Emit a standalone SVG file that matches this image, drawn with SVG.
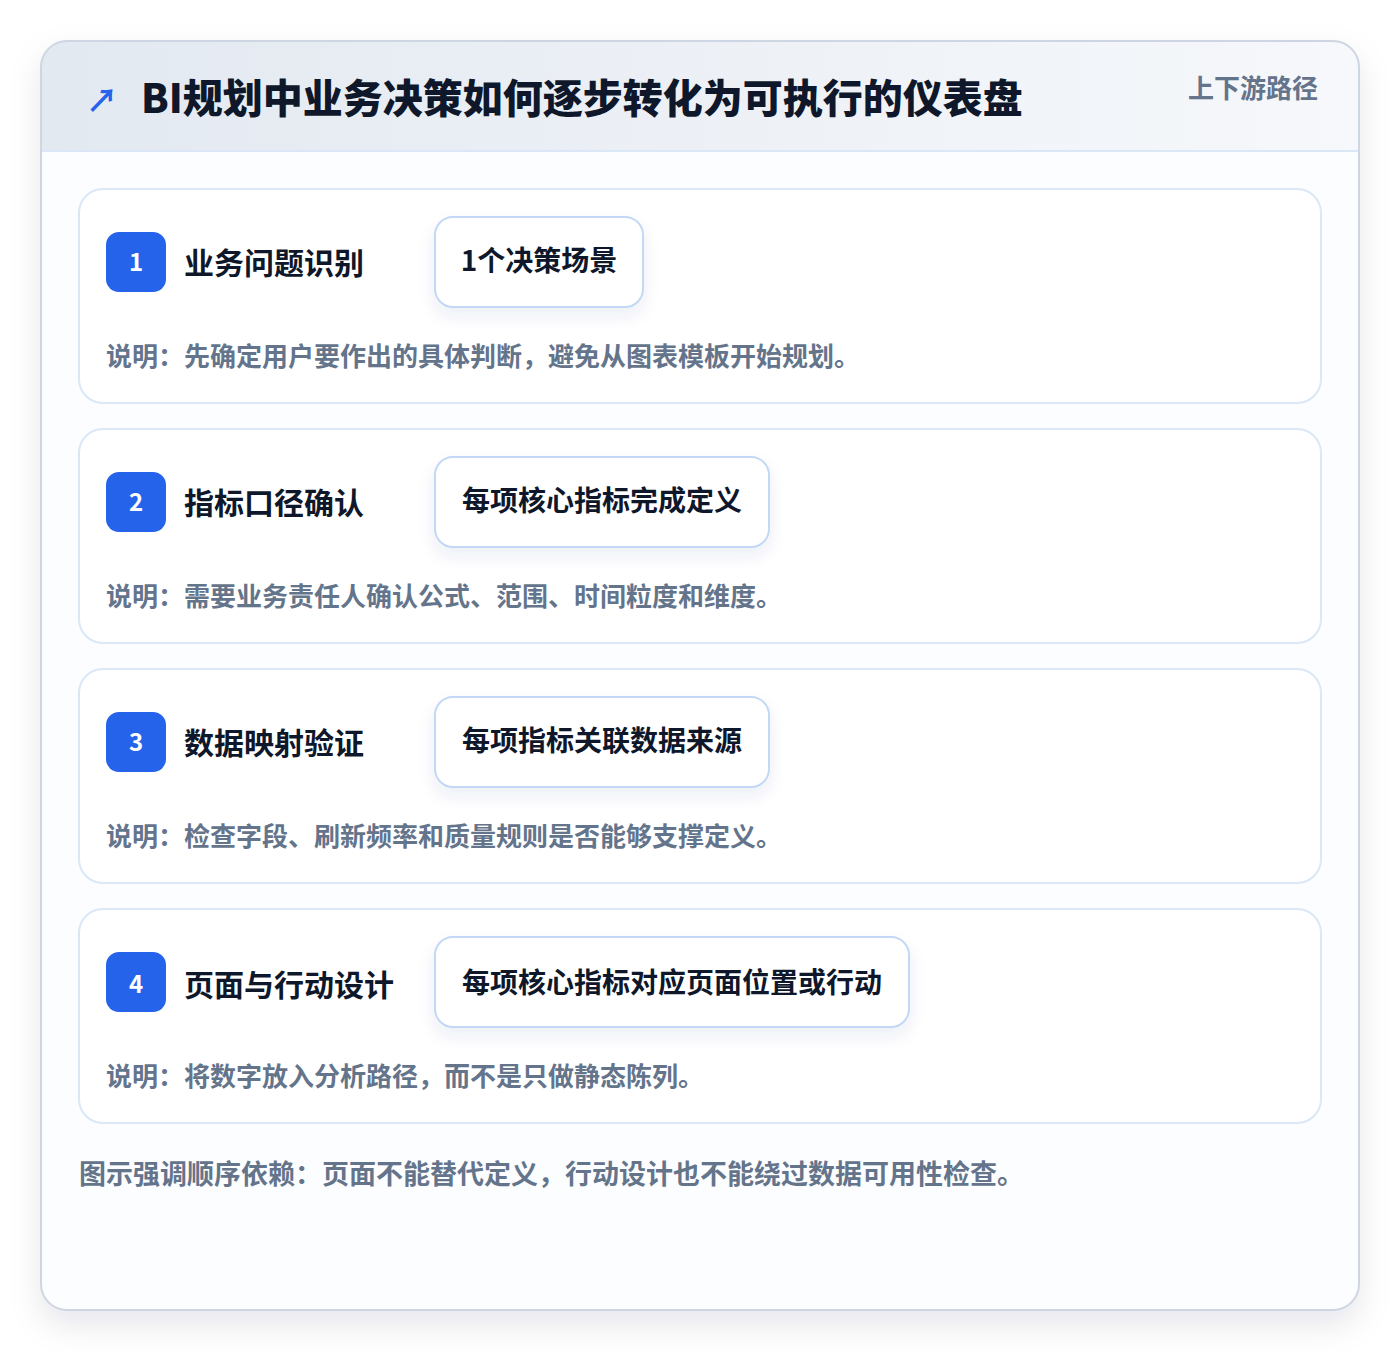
<svg xmlns="http://www.w3.org/2000/svg" width="1400" height="1352" viewBox="0 0 1400 1352">
<defs>
<linearGradient id="hdr" x1="0" y1="0" x2="1" y2="0">
<stop offset="0" stop-color="#e3e9f1"/>
<stop offset="1" stop-color="#f6f8fb"/>
</linearGradient>
<filter id="outerShadow" x="-10%" y="-10%" width="120%" height="120%">
<feDropShadow dx="0" dy="14" stdDeviation="16" flood-color="#0f172a" flood-opacity="0.10"/>
</filter>
<filter id="pillShadow" x="-20%" y="-30%" width="140%" height="180%">
<feDropShadow dx="0" dy="8" stdDeviation="8" flood-color="#1e3a8a" flood-opacity="0.08"/>
</filter>
<clipPath id="outerClip"><rect x="41" y="41" width="1318" height="1269" rx="26"/></clipPath>
</defs>
<style>
.cjk{font-family:"Noto Sans CJK SC","Noto Sans",sans-serif;}
.card{fill:#ffffff;stroke:#dbe7f7;stroke-width:2;}
.badge{fill:#2563eb;}
.badgeNum{font-size:24px;font-weight:700;fill:#ffffff;text-anchor:middle;}
.label{font-size:30px;font-weight:700;fill:#0f172a;}
.pill{fill:#ffffff;stroke:#c3d8f5;stroke-width:2;}
.pillText{font-size:28px;font-weight:700;fill:#0f172a;text-anchor:middle;}
.desc{font-size:26px;font-weight:700;fill:#64748b;}
</style>
<rect x="0" y="0" width="1400" height="1352" fill="#ffffff"/>
<g id="frame">
<rect x="41" y="41" width="1318" height="1269" rx="26" fill="#fcfdfe" filter="url(#outerShadow)"/>
<g clip-path="url(#outerClip)">
<rect x="41" y="41" width="1318" height="110" fill="url(#hdr)"/>
<line x1="41" y1="151" x2="1359" y2="151" stroke="#dbe7f7" stroke-width="2"/>
</g>
<rect x="41" y="41" width="1318" height="1269" rx="26" fill="none" stroke="#cdd6e2" stroke-width="2"/>
</g>
<g id="header">
<text class="cjk" x="86" y="112" font-size="32" font-weight="700" fill="#2563eb">↗</text>
<text class="cjk" x="141" y="113" font-size="40" font-weight="900" fill="#0f172a">BI规划中业务决策如何逐步转化为可执行的仪表盘</text>
<text class="cjk" x="1318" y="98" font-size="26" font-weight="700" fill="#64748b" text-anchor="end">上下游路径</text>
</g>
<g id="step1">
<rect class="card" x="79" y="189" width="1242" height="214" rx="24"/>
<rect class="badge" x="106" y="232" width="60" height="60" rx="13"/>
<text class="cjk badgeNum" x="136" y="271">1</text>
<text class="cjk label" x="184" y="274">业务问题识别</text>
<rect class="pill" x="435" y="217" width="208" height="90" rx="18" filter="url(#pillShadow)"/>
<text class="cjk pillText" x="539" y="271">1个决策场景</text>
<text class="cjk desc" x="106" y="366">说明：先确定用户要作出的具体判断，避免从图表模板开始规划。</text>
</g>
<g id="step2">
<rect class="card" x="79" y="429" width="1242" height="214" rx="24"/>
<rect class="badge" x="106" y="472" width="60" height="60" rx="13"/>
<text class="cjk badgeNum" x="136" y="511">2</text>
<text class="cjk label" x="184" y="514">指标口径确认</text>
<rect class="pill" x="435" y="457" width="334" height="90" rx="18" filter="url(#pillShadow)"/>
<text class="cjk pillText" x="602" y="511">每项核心指标完成定义</text>
<text class="cjk desc" x="106" y="606">说明：需要业务责任人确认公式、范围、时间粒度和维度。</text>
</g>
<g id="step3">
<rect class="card" x="79" y="669" width="1242" height="214" rx="24"/>
<rect class="badge" x="106" y="712" width="60" height="60" rx="13"/>
<text class="cjk badgeNum" x="136" y="751">3</text>
<text class="cjk label" x="184" y="754">数据映射验证</text>
<rect class="pill" x="435" y="697" width="334" height="90" rx="18" filter="url(#pillShadow)"/>
<text class="cjk pillText" x="602" y="751">每项指标关联数据来源</text>
<text class="cjk desc" x="106" y="846">说明：检查字段、刷新频率和质量规则是否能够支撑定义。</text>
</g>
<g id="step4">
<rect class="card" x="79" y="909" width="1242" height="214" rx="24"/>
<rect class="badge" x="106" y="952" width="60" height="60" rx="13"/>
<text class="cjk badgeNum" x="136" y="993">4</text>
<text class="cjk label" x="184" y="996">页面与行动设计</text>
<rect class="pill" x="435" y="937" width="474" height="90" rx="18" filter="url(#pillShadow)"/>
<text class="cjk pillText" x="672" y="993">每项核心指标对应页面位置或行动</text>
<text class="cjk desc" x="106" y="1086">说明：将数字放入分析路径，而不是只做静态陈列。</text>
</g>
<g id="connectors"></g>
<g id="footer">
<text class="cjk" x="79" y="1184" font-size="27" font-weight="700" fill="#64748b">图示强调顺序依赖：页面不能替代定义，行动设计也不能绕过数据可用性检查。</text>
</g>
</svg>
